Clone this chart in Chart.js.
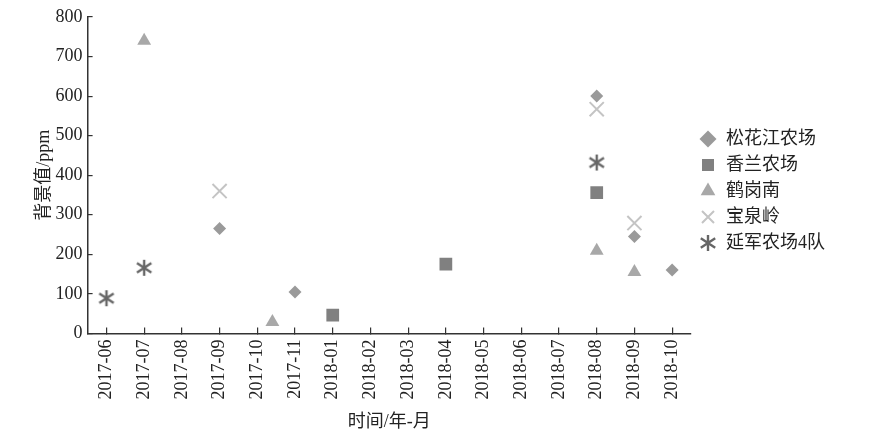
<!DOCTYPE html>
<html>
<head>
<meta charset="utf-8">
<script src="https://cdn.jsdelivr.net/npm/chart.js@4.4.1/dist/chart.umd.min.js"></script>
<style>
  html, body { margin: 0; padding: 0; background: #fff; }
  #wrap { width: 880px; height: 445px; }
</style>
</head>
<body>
<div id="wrap"><canvas id="c"></canvas></div>
<script>
// x 轴月份
const months = ['2017-06', '2017-07', '2017-08', '2017-09', '2017-10', '2017-11',
  '2018-01', '2018-02', '2018-03', '2018-04', '2018-05', '2018-06',
  '2018-07', '2018-08', '2018-09', '2018-10'];

// 位置 = 月份序号 (鹤岗南有一个点落在 10 月和 11 月之间)
const songhuajiangPos = [3, 5, 13, 14, 15];
const songhuajiangVal = [265, 105, 600, 245, 160];

const xianglanPos = [6, 9, 13];
const xianglanVal = [46, 175, 356];

const hegangnanPos = [1, 4.4, 13, 14];
const hegangnanVal = [740, 29, 209, 155];

const baoquanlingPos = [3, 13, 14];
const baoquanlingVal = [360, 567, 279];

const yanjunPos = [0, 1, 13];
const yanjunVal = [89, 166, 432];

const yTicks = [0, 100, 200, 300, 400, 500, 600, 700, 800];

const serif = "'Liberation Serif', 'Noto Sans CJK SC', serif";

function pts(pos, val) {
  return pos.map((p, i) => ({ x: p, y: val[i] }));
}

// 星号标记 (竖线 + 两条斜线)
function asterisk(color, s) {
  const cv = document.createElement('canvas');
  cv.width = s; cv.height = s;
  const g = cv.getContext('2d');
  const m = s / 2;
  g.strokeStyle = color;
  g.lineWidth = 2.4;
  g.beginPath();
  g.moveTo(m, 1); g.lineTo(m, s - 1);
  g.moveTo(m - s * 0.4, m - s * 0.26); g.lineTo(m + s * 0.4, m + s * 0.26);
  g.moveTo(m + s * 0.4, m - s * 0.26); g.lineTo(m - s * 0.4, m + s * 0.26);
  g.stroke();
  return cv;
}

const starImg = asterisk('#666666', 18);

new Chart(document.getElementById('c'), {
  type: 'scatter',
  data: {
    datasets: [
      {
        label: '松花江农场',
        data: pts(songhuajiangPos, songhuajiangVal),
        pointStyle: 'rectRot',
        pointRadius: 6.5,
        backgroundColor: '#9a9a9a',
        borderColor: '#9a9a9a',
        borderWidth: 0
      },
      {
        label: '香兰农场',
        data: pts(xianglanPos, xianglanVal),
        pointStyle: 'rect',
        pointRadius: 9,
        backgroundColor: '#808080',
        borderColor: '#808080',
        borderWidth: 0
      },
      {
        label: '鹤岗南',
        data: pts(hegangnanPos, hegangnanVal),
        pointStyle: 'triangle',
        pointRadius: 8,
        backgroundColor: '#a8a8a8',
        borderColor: '#a8a8a8',
        borderWidth: 0
      },
      {
        label: '宝泉岭',
        data: pts(baoquanlingPos, baoquanlingVal),
        pointStyle: 'crossRot',
        pointRadius: 10,
        backgroundColor: '#c4c4c4',
        borderColor: '#c4c4c4',
        borderWidth: 2
      },
      {
        label: '延军农场4队',
        data: pts(yanjunPos, yanjunVal),
        pointStyle: starImg,
        pointRadius: 9,
        backgroundColor: '#666666',
        borderColor: '#666666',
        borderWidth: 2
      }
    ]
  },
  options: {
    responsive: true,
    maintainAspectRatio: false,
    animation: false,
    layout: { padding: { top: 3, right: 45, left: 33, bottom: 8 } },
    plugins: {
      tooltip: { enabled: false },
      legend: {
        position: 'right',
        align: 'start',
        title: { display: true, text: '', font: { size: 10 }, padding: { top: 107, bottom: 0 } },
        labels: {
          usePointStyle: true,
          boxHeight: 12,
          padding: 8,
          color: '#222',
          font: { family: serif, size: 18 }
        }
      }
    },
    scales: {
      x: {
        type: 'linear',
        min: -0.5,
        max: 15.5,
        afterBuildTicks: scale => {
          scale.ticks = months.map((m, i) => ({ value: i }));
        },
        ticks: {
          autoSkip: false,
          minRotation: 90,
          maxRotation: 90,
          padding: 12,
          color: '#222',
          font: { family: serif, size: 18 },
          callback: v => months[v]
        },
        grid: { drawOnChartArea: false, tickLength: -6, color: '#333', lineWidth: 1.2 },
        border: { color: '#333', width: 1.5 },
        title: {
          display: true,
          text: '时间/年-月',
          color: '#222',
          font: { family: serif, size: 18 },
          padding: { top: 0 }
        }
      },
      y: {
        min: 0,
        max: 800,
        afterBuildTicks: scale => {
          scale.ticks = yTicks.map(v => ({ value: v }));
        },
        afterFit: scale => {
          scale.paddingTop = 17;
        },
        ticks: {
          padding: 10,
          color: '#222',
          font: { family: serif, size: 18 }
        },
        grid: { drawOnChartArea: false, tickLength: -5, color: '#333', lineWidth: 1.2 },
        border: { color: '#333', width: 1.5 },
        title: {
          display: true,
          text: '背景值/ppm',
          color: '#222',
          font: { family: serif, size: 18 },
          padding: { top: 0, bottom: -9 }
        }
      }
    }
  }
});
</script>
</body>
</html>
